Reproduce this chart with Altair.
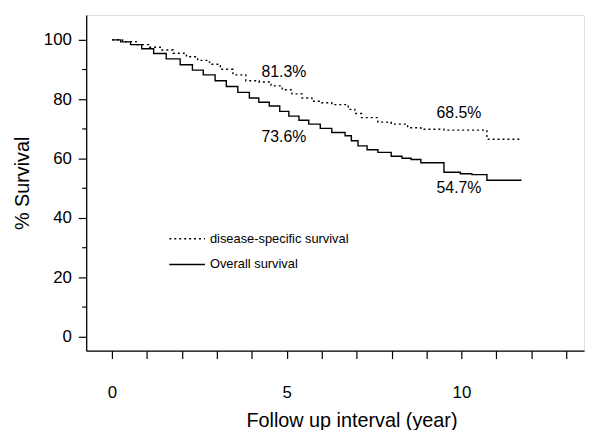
import altair as alt
import pandas as pd

# ---- data ----
os_time = [0, 0.25, 0.53, 0.85, 1.19, 1.55, 1.95, 2.3, 2.61, 2.95, 3.27, 3.6, 3.93, 4.2, 4.5,
           4.8, 5.06, 5.35, 5.63, 5.96, 6.29, 6.67, 6.85, 7.04, 7.3, 7.61, 7.99, 8.3, 8.56,
           8.84, 9.5, 9.97, 10.3, 10.73, 11.72]
os_surv = [100, 99.3, 98.4, 97.0, 95.4, 93.6, 91.6, 89.8, 88.2, 86.2, 84.3, 82.3, 80.4, 79.0, 77.7,
           75.9, 74.3, 72.9, 71.6, 70.2, 68.8, 67.7, 66.0, 64.3, 63.0, 62.1, 60.8, 60.1, 59.7,
           58.6, 55.4, 54.9, 54.6, 52.7, 52.7]

dss_time = [0, 0.3, 0.72, 1.05, 1.38, 1.75, 2.13, 2.45, 2.79, 3.1, 3.46, 3.83, 4.21, 4.55, 4.87,
            5.15, 5.44, 5.72, 6.0, 6.29, 6.76, 6.95, 7.14, 7.61, 7.99, 8.46, 8.84, 9.5, 10.73, 11.72]
dss_surv = [100, 99.4, 98.4, 97.5, 96.6, 95.5, 94.3, 93.1, 91.8, 90.1, 88.2, 86.2, 85.8, 84.5, 83.2,
            81.8, 80.4, 79.3, 78.8, 78.2, 76.6, 75.2, 73.8, 72.3, 71.6, 70.4, 69.9, 69.6, 66.5, 66.3]

series_names = ["disease-specific survival", "Overall survival"]

ann_text = ["81.3%", "73.6%", "68.5%", "54.7%"]
ann_year = [4.92, 4.92, 9.93, 9.93]
ann_pct = [89.1, 67.2, 75.2, 50.0]

x_ticks = list(range(0, 14))
y_major = [0, 20, 40, 60, 80, 100]
y_minor = [10, 30, 50, 70, 90]

# ---- tables ----
curves = pd.concat([
    pd.DataFrame({"series": series_names[0], "year": dss_time, "surv": dss_surv}),
    pd.DataFrame({"series": series_names[1], "year": os_time, "surv": os_surv}),
], ignore_index=True)
ann = pd.DataFrame({"text": ann_text, "year": ann_year, "surv": ann_pct})
minor = pd.DataFrame({"surv": y_minor})

FONT = "Liberation Sans"
xscale = alt.Scale(domain=[-0.74, 13.51], nice=False, zero=False)
yscale = alt.Scale(domain=[-4.67, 108.33], nice=False, zero=False)

x_axis = alt.Axis(
    values=x_ticks,
    labelExpr="datum.value % 5 === 0 ? datum.label : ''",
    labelOverlap=False, labelFlush=False,
    tickSize=8, tickWidth=1.2, tickColor="black",
    domainColor="black", domainWidth=1.3,
    labelPadding=26, labelFontSize=17, labelColor="black", labelFont=FONT,
    title="Follow up interval (year)", titleFontSize=20, titleFontWeight="normal",
    titleColor="black", titleFont=FONT, titleX=268, titleY=71, titleBaseline="middle",
    grid=False,
)
y_axis = alt.Axis(
    values=y_major,
    tickSize=8, tickWidth=1.2, tickColor="black",
    domainColor="black", domainWidth=1.3,
    labelPadding=7, labelFontSize=17, labelColor="black", labelFont=FONT,
    title="% Survival", titleFontSize=20, titleFontWeight="normal",
    titleColor="black", titleFont=FONT, titlePadding=11,
    grid=False,
)

X = alt.X("year:Q", scale=xscale, axis=x_axis, title="Follow up interval (year)")
Y = alt.Y("surv:Q", scale=yscale, axis=y_axis, title="% Survival")

lines = alt.Chart(curves).mark_line(interpolate="step-after", color="black", strokeWidth=1.4).encode(
    x=X,
    y=Y,
    strokeDash=alt.StrokeDash(
        "series:N",
        scale=alt.Scale(domain=series_names, range=[[2, 3], [1, 0]]),
        legend=alt.Legend(
            title=None, orient="none", legendX=83, legendY=207,
            symbolType="stroke", symbolSize=1296, symbolStrokeColor="black",
            symbolStrokeWidth=1.5, labelFontSize=13, labelFont=FONT,
            labelColor="black", labelOffset=4, rowPadding=0, padding=0,
        ),
    ),
    detail="series:N",
)

labels = alt.Chart(ann).mark_text(fontSize=16, font=FONT, color="black", align="center", baseline="middle").encode(
    x=X,
    y=Y,
    text="text:N",
)

minor_ticks = alt.Chart(minor).mark_rule(color="black", strokeWidth=1.2).encode(
    y=Y,
    x=alt.value(-4),
    x2=alt.value(0),
)

chart = alt.layer(lines, labels, minor_ticks).properties(
    width=503, height=339,
    padding={"left": 79, "top": 5, "right": 5, "bottom": 78},
    autosize=alt.AutoSizeParams(type="none"),
).configure_view(stroke=None).configure(font=FONT, background="white")

chart.save("out.html", embed_options={"renderer": "svg", "actions": False})
